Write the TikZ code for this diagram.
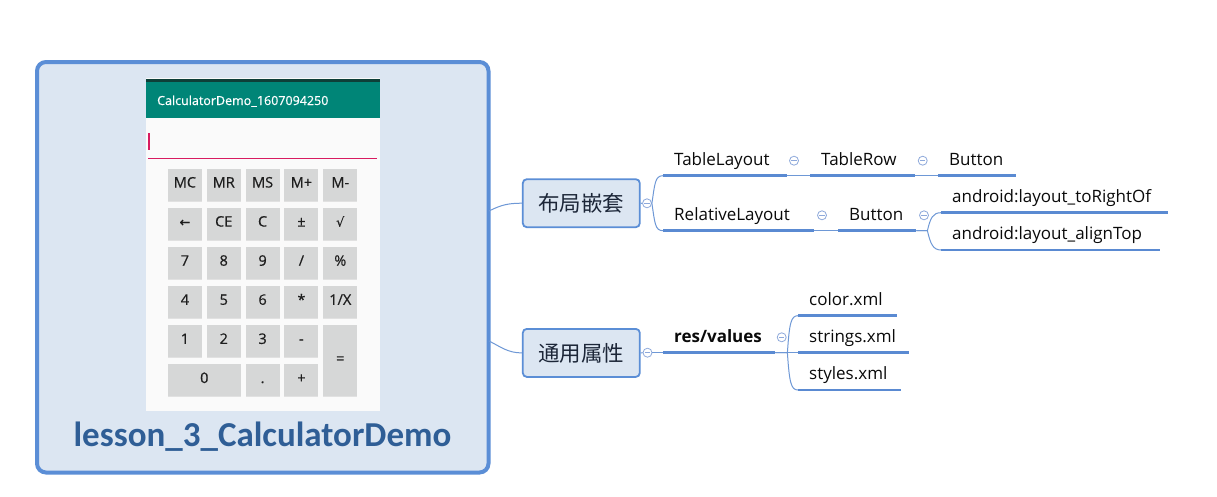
\documentclass[tikz,border=0pt]{standalone}
\usepackage{fontspec}
\usetikzlibrary{shadows}
\setmainfont{Open Sans}
\newfontfamily\cjkfont{Noto Sans CJK SC}
\newfontfamily\titlefont{Carlito}
\newfontfamily\symfont{DejaVu Sans}
\newfontfamily\keyfont{Open Sans}[FakeBold=0.6]
\newfontfamily\keysym{DejaVu Sans}[FakeBold=0.3]
\definecolor{rootborder}{HTML}{5B8ED6}
\definecolor{rootfill}{HTML}{DCE6F2}
\definecolor{titleblue}{HTML}{2F5E96}
\definecolor{appteal}{HTML}{008577}
\definecolor{tealdark}{HTML}{0E3F38}
\definecolor{accentpink}{HTML}{D81B60}
\definecolor{btngray}{HTML}{D6D7D7}
\definecolor{screenbg}{HTML}{FAFAFA}
\definecolor{lineblue}{HTML}{5A8AD2}
\definecolor{thinblue}{HTML}{6E98D6}
\definecolor{circblue}{HTML}{8EA9DB}
\definecolor{topictext}{HTML}{0A0A0A}
\definecolor{navytext}{HTML}{1C2638}
\definecolor{keytext}{HTML}{1E1E1E}

\newcommand\calcbtn[6]{%
  \pgfmathsetmacro\bx{167.7+38.85*#2}\pgfmathsetmacro\by{168.3+39.1*#3}%
  \pgfmathsetmacro\bw{34+38.85*(#4-1)}\pgfmathsetmacro\bh{32+39.1*(#5-1)}%
  \node[keybtn, minimum width=\bw pt, minimum height=\bh pt, anchor=north west] (#1) at (\bx,\by) {#6};}
\newcommand\mmtopic[6][]{%
  \pgfmathsetmacro\tw{#4-#3-22}%
  \node[topic,#1,anchor=south west] (#2) at (#3,#5) {\makebox[\tw pt][l]{#6}};
  \draw[uline] (#2.south west) -- (#2.south east);}

\begin{document}
\begin{tikzpicture}[x=1pt,y=-1pt,
  rootbox/.style={draw=rootborder, fill=rootfill, line width=4pt, rounded corners=9pt,
    minimum width=451.5pt, minimum height=410.5pt, inner sep=0pt},
  keybtn/.style={fill=btngray, inner sep=0pt, text=keytext, font=\keyfont\fontsize{14.5}{14.5}\selectfont,
    text height=10pt, text depth=4pt, drop shadow={shadow xshift=0pt, shadow yshift=-1pt, opacity=0.25, fill=black!40}},
  topicbox/.style={draw=rootborder, fill=rootfill, line width=1.8pt, rounded corners=4pt,
    minimum width=117pt, minimum height=48pt, inner sep=0pt, text=navytext,
    font=\cjkfont\fontsize{21.5}{21.5}\selectfont},
  topic/.style={inner xsep=11pt, inner ysep=0pt, minimum height=28pt, text height=12pt, text depth=4pt,
    text=topictext, font=\fontsize{17}{17}\selectfont},
  uline/.style={draw=lineblue, line width=2.6pt},
  thinline/.style={draw=thinblue, line width=1pt},
  collapse/.style={circle, draw=circblue, fill=white, minimum size=9pt, inner sep=0pt, line width=0.8pt,
    path picture={\draw[circblue, line width=0.8pt] ([xshift=-2.6pt]path picture bounding box.center) -- ([xshift=2.6pt]path picture bounding box.center);}}
]
\useasboundingbox (0,0) rectangle (1217,496);
\fill[white] (0,0) rectangle (1217,496);

% root
\node[rootbox] (root) at (262.75,267.25) {};
\node[fill=screenbg, minimum width=234pt, minimum height=333pt, inner sep=0pt, anchor=north west] (shot) at (146,78) {};
\node[fill=tealdark, minimum width=234pt, minimum height=2.6pt, inner sep=0pt, anchor=north west] (sbar) at (146,79) {};
\node[fill=appteal, minimum width=234pt, minimum height=36.5pt, inner sep=0pt, anchor=north west] (abar) at (146,81.5) {};
\node[anchor=base west, text=white, inner sep=0pt, font=\keyfont\fontsize{12.5}{12.5}\selectfont] (apptitle) at (157,105) {CalculatorDemo\_1607094250};
\draw[accentpink, line width=1.3pt] (149,133) -- (149,150);
\draw[accentpink, line width=1.2pt] (148,158.6) -- (377,158.6);

% keys
\calcbtn{kMC}{0}{0}{1}{1}{MC}
\calcbtn{kMR}{1}{0}{1}{1}{MR}
\calcbtn{kMS}{2}{0}{1}{1}{MS}
\calcbtn{kMp}{3}{0}{1}{1}{M+}
\calcbtn{kMm}{4}{0}{1}{1}{M-}
\calcbtn{kBk}{0}{1}{1}{1}{{\keysym\fontsize{13}{13}\selectfont ←}}
\calcbtn{kCE}{1}{1}{1}{1}{CE}
\calcbtn{kC}{2}{1}{1}{1}{C}
\calcbtn{kPm}{3}{1}{1}{1}{±}
\calcbtn{kSq}{4}{1}{1}{1}{{\keysym\fontsize{13}{13}\selectfont √}}
\calcbtn{k7}{0}{2}{1}{1}{7}
\calcbtn{k8}{1}{2}{1}{1}{8}
\calcbtn{k9}{2}{2}{1}{1}{9}
\calcbtn{kDv}{3}{2}{1}{1}{/}
\calcbtn{kPc}{4}{2}{1}{1}{\%}
\calcbtn{k4}{0}{3}{1}{1}{4}
\calcbtn{k5}{1}{3}{1}{1}{5}
\calcbtn{k6}{2}{3}{1}{1}{6}
\calcbtn{kMu}{3}{3}{1}{1}{*}
\calcbtn{kIn}{4}{3}{1}{1}{1/X}
\calcbtn{k1}{0}{4}{1}{1}{1}
\calcbtn{k2}{1}{4}{1}{1}{2}
\calcbtn{k3}{2}{4}{1}{1}{3}
\calcbtn{kMi}{3}{4}{1}{1}{-}
\calcbtn{kEq}{4}{4}{1}{2}{=}
\calcbtn{k0}{0}{5}{2}{1}{0}
\calcbtn{kDt}{2}{5}{1}{1}{.}
\calcbtn{kPl}{3}{5}{1}{1}{+}

\node[anchor=base, text=titleblue, inner sep=0pt, font=\titlefont\bfseries\fontsize{35}{35}\selectfont] (title) at (262.5,446.7) {lesson\_3\_CalculatorDemo};

% main topics
\node[topicbox] (n1) at (581.3,203.2) {布局嵌套};
\node[topicbox] (n2) at (581.3,352.9) {通用属性};
\coordinate (r1) at (489,211);
\coordinate (r2) at (489,341);
\draw[thinline] (r1) .. controls +(12,-6) and +(-14,0) .. (n1.west);
\draw[thinline] (r2) .. controls +(12,6) and +(-14,0) .. (n2.west);

\node[collapse] (c1) at (647,203.3) {};
\node[collapse] (c2) at (647.5,352.7) {};
\draw[thinline] (n1.east) -- (c1.west);
\draw[thinline] (n2.east) -- (c2.west);

% subtopics
\mmtopic{TL}{663}{787}{175.7}{TableLayout}
\mmtopic{TR}{810}{915}{175.7}{TableRow}
\mmtopic{BA}{938}{1016}{175.7}{Button}
\mmtopic{RL}{663}{814}{230.7}{RelativeLayout}
\mmtopic{BB}{838}{916}{230.7}{Button}
\mmtopic{RO}{941}{1168}{212.7}{android:layout\_toRightOf}
\mmtopic{AT}{941}{1160}{250}{android:layout\_alignTop}
\mmtopic[font=\bfseries\fontsize{17}{17}\selectfont]{RV}{663}{775}{352.7}{res/values}
\mmtopic{CX}{798}{897}{315.7}{color.xml}
\mmtopic{SX}{798}{909}{352.7}{strings.xml}
\mmtopic{SY}{798}{901}{390}{styles.xml}

\node[collapse] (cTL) at (794,160.7) {};
\node[collapse] (cTR) at (922.7,160.7) {};
\node[collapse] (cRL) at (822,215.3) {};
\node[collapse] (cBB) at (924,215.3) {};
\node[collapse] (cRV) at (781.7,337.3) {};

\draw[thinline] (c1.east) .. controls +(3,-20) and +(-8,0) .. (TL.south west);
\draw[thinline] (c1.east) .. controls +(3,20) and +(-8,0) .. (RL.south west);
\draw[thinline] (TL.south east) -- (TR.south west);
\draw[thinline] (TR.south east) -- (BA.south west);
\draw[thinline] (RL.south east) -- (BB.south west);
\draw[thinline] (BB.south east) -- ++(11,0) .. controls +(3,-13) and +(-8,0) .. (RO.south west);
\draw[thinline] (BB.south east) -- ++(11,0) .. controls +(3,13) and +(-8,0) .. (AT.south west);
\draw[thinline] (c2.east) -- (RV.south west);
\draw[thinline] (RV.south east) -- (SX.south west);
\draw[thinline] (RV.south east) -- ++(12,0) .. controls +(2,-30) and +(-7,0) .. (CX.south west);
\draw[thinline] (RV.south east) -- ++(12,0) .. controls +(2,30) and +(-7,0) .. (SY.south west);
\end{tikzpicture}
\end{document}
